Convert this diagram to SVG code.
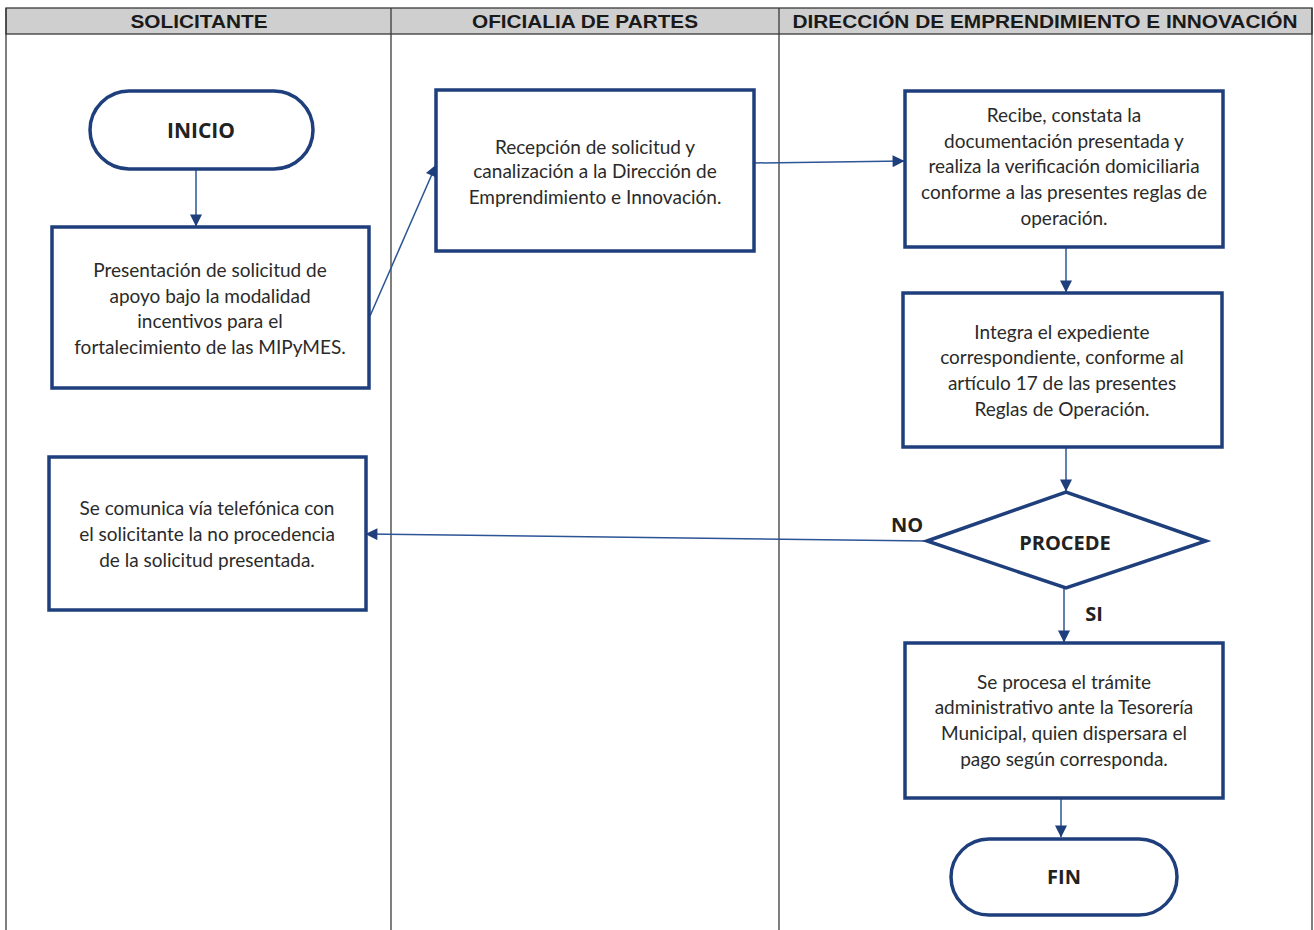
<svg xmlns="http://www.w3.org/2000/svg" width="1314" height="930" viewBox="0 0 1314 930">
<style>
.lane{stroke:#3a3a3a;stroke-width:1.3;fill:none}
.hdr{fill:#cfcfcf;stroke:#3a3a3a;stroke-width:1.3}
.ht{font-family:"Liberation Sans",Arial,sans-serif;font-weight:bold;font-size:18px;fill:#1a1a1a;text-anchor:middle}
.box{fill:#ffffff;stroke:#1e3f7c;stroke-width:3.5}
.t{font-family:Lato,"Open Sans",sans-serif;font-size:19px;fill:#2a2a2a;text-anchor:middle}
.tb{font-family:"Open Sans","Noto Sans",sans-serif;font-weight:bold;font-size:20px;fill:#222;text-anchor:middle}
.c{stroke:#2c5595;stroke-width:1.5;fill:none;marker-end:url(#ah)}
</style>
<defs>
<marker id="ah" viewBox="0 0 10 10" refX="9.5" refY="5" markerWidth="13" markerHeight="12" markerUnits="userSpaceOnUse" orient="auto">
<path d="M0,0 L10,5 L0,10 z" fill="#1e3f7c"/>
</marker>
</defs>
<rect width="1314" height="930" fill="#ffffff"/>
<g id="lanes">
<rect class="hdr" x="6" y="8" width="1306" height="26"/>
<line class="lane" x1="6" y1="8" x2="6" y2="930"/>
<line class="lane" x1="391" y1="8" x2="391" y2="930"/>
<line class="lane" x1="779" y1="8" x2="779" y2="930"/>
<line class="lane" x1="1312" y1="8" x2="1312" y2="930"/>
<text class="ht" x="199" y="28" textLength="137" lengthAdjust="spacingAndGlyphs">SOLICITANTE</text>
<text class="ht" x="585" y="28" textLength="226" lengthAdjust="spacingAndGlyphs">OFICIALIA DE PARTES</text>
<text class="ht" x="1045" y="28" textLength="505" lengthAdjust="spacingAndGlyphs">DIRECCIÓN DE EMPRENDIMIENTO E INNOVACIÓN</text>
</g>
<g id="connectors">
<line class="c" x1="196" y1="169" x2="196" y2="226"/>
<line class="c" x1="370" y1="316" x2="436" y2="165"/>
<line class="c" x1="754" y1="163" x2="904" y2="161"/>
<line class="c" x1="1066" y1="247" x2="1066" y2="292"/>
<line class="c" x1="1066" y1="447" x2="1066" y2="491"/>
<line class="c" x1="927" y1="541" x2="366" y2="534"/>
<line class="c" x1="1064" y1="588" x2="1064" y2="642"/>
<line class="c" x1="1061" y1="787" x2="1061" y2="837"/>
<text class="tb" x="907" y="532">NO</text>
<text class="tb" x="1094" y="621">SI</text>
</g>
<g id="inicio">
<rect class="box" x="90" y="91" width="223" height="78" rx="39" ry="39"/>
<text class="tb" x="201" y="138" style="font-size:21px">INICIO</text>
</g>
<g id="presentacion">
<rect class="box" x="52" y="227" width="317" height="161"/>
<text class="t" x="210" y="277">Presentación de solicitud de</text>
<text class="t" x="210" y="303">apoyo bajo la modalidad</text>
<text class="t" x="210" y="328">incentivos para el</text>
<text class="t" x="210" y="354">fortalecimiento de las MIPyMES.</text>
</g>
<g id="recepcion">
<rect class="box" x="436" y="90" width="318" height="161"/>
<text class="t" x="595" y="154">Recepción de solicitud y</text>
<text class="t" x="595" y="178">canalización a la Dirección de</text>
<text class="t" x="595" y="204">Emprendimiento e Innovación.</text>
</g>
<g id="recibe">
<rect class="box" x="905" y="91" width="318" height="156"/>
<text class="t" x="1064" y="122">Recibe, constata la</text>
<text class="t" x="1064" y="148">documentación presentada y</text>
<text class="t" x="1064" y="173">realiza la verificación domiciliaria</text>
<text class="t" x="1064" y="199">conforme a las presentes reglas de</text>
<text class="t" x="1064" y="225">operación.</text>
</g>
<g id="integra">
<rect class="box" x="903" y="293" width="319" height="154"/>
<text class="t" x="1062" y="339">Integra el expediente</text>
<text class="t" x="1062" y="364">correspondiente, conforme al</text>
<text class="t" x="1062" y="390">artículo 17 de las presentes</text>
<text class="t" x="1062" y="416">Reglas de Operación.</text>
</g>
<g id="procede">
<polygon class="box" points="927,541 1066,492 1206,541 1066,588"/>
<text class="tb" x="1065" y="550">PROCEDE</text>
</g>
<g id="comunica">
<rect class="box" x="49" y="457" width="317" height="153"/>
<text class="t" x="207" y="515">Se comunica vía telefónica con</text>
<text class="t" x="207" y="541">el solicitante la no procedencia</text>
<text class="t" x="207" y="567">de la solicitud presentada.</text>
</g>
<g id="procesa">
<rect class="box" x="905" y="643" width="318" height="155"/>
<text class="t" x="1064" y="689">Se procesa el trámite</text>
<text class="t" x="1064" y="714">administrativo ante la Tesorería</text>
<text class="t" x="1064" y="740">Municipal, quien dispersara el</text>
<text class="t" x="1064" y="766">pago según corresponda.</text>
</g>
<g id="fin">
<rect class="box" x="951" y="839" width="226" height="76" rx="38" ry="38"/>
<text class="tb" x="1064" y="884">FIN</text>
</g>
</svg>
